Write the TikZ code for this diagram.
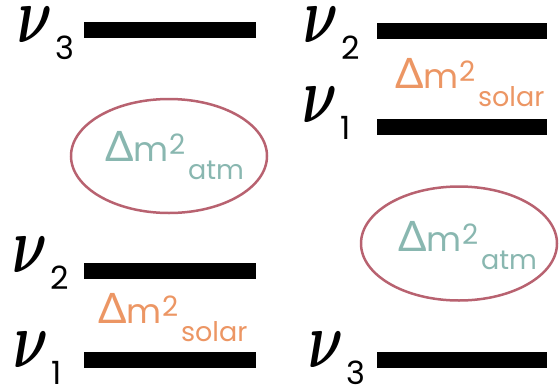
\documentclass[tikz,border=0pt]{standalone}
\usepackage{graphicx}
\usepackage{fontspec}
\setmainfont{Poppins}
\newfontfamily\deltafont{Lato}
\usetikzlibrary{shapes.geometric}
\definecolor{tealtxt}{RGB}{137,183,176}
\definecolor{orangetxt}{RGB}{236,150,100}
\definecolor{ellcol}{RGB}{184,98,112}
\tikzset{
  levelbar/.style={fill=black,inner sep=0pt,minimum width=172pt,minimum height=16pt},
  nusym/.style={inner sep=0pt,anchor=base west},
  nudigit/.style={inner sep=0pt,anchor=base west,font=\fontsize{32}{32}\selectfont},
  dmain/.style={inner sep=0pt,anchor=base west},
  dsup/.style={inner sep=0pt,anchor=base west,font=\fontsize{28}{28}\selectfont},
  dsub/.style={inner sep=0pt,anchor=base west,font=\fontsize{27}{27}\selectfont},
  gapell/.style={draw=ellcol,line width=2.5pt,ellipse,minimum width=196pt,minimum height=114pt,inner sep=0pt}
}
\newcommand\nulab[4]{%
  \node[nusym] (#1) at (#2) {\scalebox{5.4}[8]{\boldmath$\nu$}};
  \node[nudigit] (#1d) at ([xshift=3pt,yshift=-17pt]#1.base east) {#3};
}
\newcommand\dmlab[4]{%
  \node[dmain,#3] (#1) at (#2) {{\deltafont\fontsize{42}{42}\selectfont Δ}{\fontsize{34}{34}\selectfont m}};
  \node[dsup,#3] (#1s) at ([xshift=0pt,yshift=7pt]#1.base east) {2};
  \node[dsub,#3] (#1b) at ([xshift=19pt,yshift=-18pt]#1.base east) {#4};
}
\begin{document}
\begin{tikzpicture}[x=1pt,y=-1pt]
\useasboundingbox (0,0) rectangle (559,386);
% left (normal hierarchy)
\node[levelbar] (L3) at (170,30) {};
\node[levelbar] (L2) at (170,270.5) {};
\node[levelbar] (L1) at (170,359.5) {};
\nulab{nuL3}{17,42}{3}{}
\nulab{nuL2}{12,272}{2}{}
\nulab{nuL1}{13,367}{1}{}
\node[gapell] (eL) at (169,156) {};
\dmlab{dmL}{105,161}{text=tealtxt}{atm}
\dmlab{dsL}{98,323}{text=orangetxt}{solar}
% right (inverted hierarchy)
\node[levelbar,minimum width=170pt] (R2) at (462,30.5) {};
\node[levelbar,minimum width=170pt] (R1) at (462,126.5) {};
\node[levelbar,minimum width=170pt] (R3) at (462,359.5) {};
\nulab{nuR2}{303,42}{2}{}
\nulab{nuR1}{302,122}{1}{}
\nulab{nuR3}{308,367}{3}{}
\node[gapell] (eR) at (459,243.5) {};
\dmlab{dsR}{395,88}{text=orangetxt}{solar}
\dmlab{dmR}{398,251}{text=tealtxt}{atm}
\end{tikzpicture}
\end{document}
